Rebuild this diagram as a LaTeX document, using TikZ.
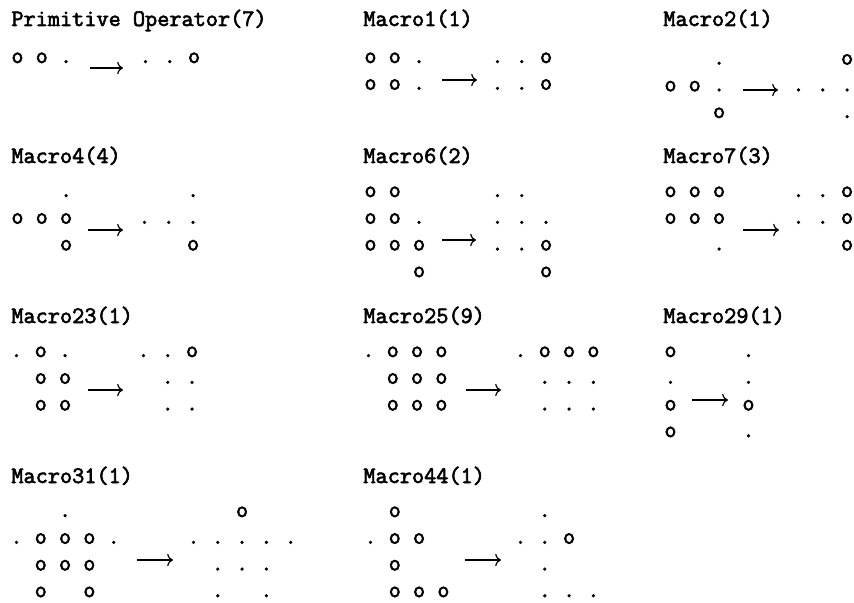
\documentclass[tikz,border=0pt]{standalone}
\usepackage{fontspec}
\newfontfamily\boardtt{Latin Modern Mono}[FakeBold=2.6]
\usetikzlibrary{arrows.meta}
\newcommand{\vd}{\hphantom{o~}}
\begin{document}
\begin{tikzpicture}[x=0.5pt,y=-0.5pt,>=To,
  ttl/.style={anchor=base west,inner sep=0pt,font=\fontsize{11.8}{13.35}\selectfont\boardtt},
  pat/.style={anchor=base west,inner sep=0pt,align=left,font=\fontsize{11.8}{13.35}\selectfont\boardtt\frenchspacing},
  arr/.style={->,line width=0.6pt}]
\useasboundingbox (0,0) rectangle (854,603);
% titles
\node (t1) [ttl] at (11,26) {Primitive Operator(7)};
\node (t2) [ttl] at (363,26) {Macro1(1)};
\node (t3) [ttl] at (663,26) {Macro2(1)};
\node (t4) [ttl] at (11,163) {Macro4(4)};
\node (t5) [ttl] at (363,163) {Macro6(2)};
\node (t6) [ttl] at (663,163) {Macro7(3)};
\node (t7) [ttl] at (11,323) {Macro23(1)};
\node (t8) [ttl] at (363,323) {Macro25(9)};
\node (t9) [ttl] at (663,323) {Macro29(1)};
\node (t10) [ttl] at (11,483) {Macro31(1)};
\node (t11) [ttl] at (363,483) {Macro44(1)};
% before / after boards (anchored at last row)
\node (l1) [pat] at (11,63) {o o .};
\node (r1) [pat] at (139,63) {. . o};
\node (l2) [pat] at (364,89.7) {o o .\\o o .};
\node (r2) [pat] at (491,89.7) {. . o\\. . o};
\node (l3) [pat] at (664,118) {\vd\vd.\\o o .\\\vd\vd o};
\node (r3) [pat] at (792,118) {\vd\vd o\\. . .\\\vd\vd.};
\node (l4) [pat] at (11,250.4) {\vd\vd.\\o o o\\\vd\vd o};
\node (r4) [pat] at (138,250.4) {\vd\vd.\\. . .\\\vd\vd o};
\node (l5) [pat] at (364,277.1) {o o\\o o .\\o o o\\\vd\vd o};
\node (r5) [pat] at (491,277.1) {. .\\. . .\\. . o\\\vd\vd o};
\node (l6) [pat] at (664,250.4) {o o o\\o o o\\\vd\vd.};
\node (r6) [pat] at (792,250.4) {. . o\\. . o\\\vd\vd o};
\node (l7) [pat] at (10,410.4) {. o .\\\vd o o\\\vd o o};
\node (r7) [pat] at (137,410.4) {. . o\\\vd. .\\\vd. .};
\node (l8) [pat] at (362,410.4) {. o o o\\\vd o o o\\\vd o o o};
\node (r8) [pat] at (514,410.4) {. o o o\\\vd. . .\\\vd. . .};
\node (l9) [pat] at (664,437.1) {o\\.\\o\\o};
\node (r9) [pat] at (742,437.1) {.\\.\\o\\.};
\node (l10) [pat] at (10,597.1) {\vd\vd.\\. o o o .\\\vd o o o\\\vd o~\vd o};
\node (r10) [pat] at (187,597.1) {\vd\vd o\\. . . . .\\\vd. . .\\\vd.~\vd.};
\node (l11) [pat] at (364,597.1) {\vd o\\. o o\\\vd o\\\vd o o o};
\node (r11) [pat] at (514,597.1) {\vd.\\. . o\\\vd.\\\vd. . .};
% arrows
\coordinate (s1) at (90,68); \coordinate (e1) at (123,68);
\coordinate (s2) at (442,80); \coordinate (e2) at (477,80);
\coordinate (s3) at (743,90); \coordinate (e3) at (778,90);
\coordinate (s4) at (88,230); \coordinate (e4) at (123,230);
\coordinate (s5) at (442,240); \coordinate (e5) at (476,240);
\coordinate (s6) at (743,230); \coordinate (e6) at (779,230);
\coordinate (s7) at (88,390); \coordinate (e7) at (123,390);
\coordinate (s8) at (466,390); \coordinate (e8) at (501,390);
\coordinate (s9) at (692,400); \coordinate (e9) at (728,400);
\coordinate (s10) at (137,560); \coordinate (e10) at (173,560);
\coordinate (s11) at (465,560); \coordinate (e11) at (501,560);
\draw[arr] (s1) -- (e1); \draw[arr] (s2) -- (e2); \draw[arr] (s3) -- (e3);
\draw[arr] (s4) -- (e4); \draw[arr] (s5) -- (e5); \draw[arr] (s6) -- (e6);
\draw[arr] (s7) -- (e7); \draw[arr] (s8) -- (e8); \draw[arr] (s9) -- (e9);
\draw[arr] (s10) -- (e10); \draw[arr] (s11) -- (e11);
\end{tikzpicture}
\end{document}
